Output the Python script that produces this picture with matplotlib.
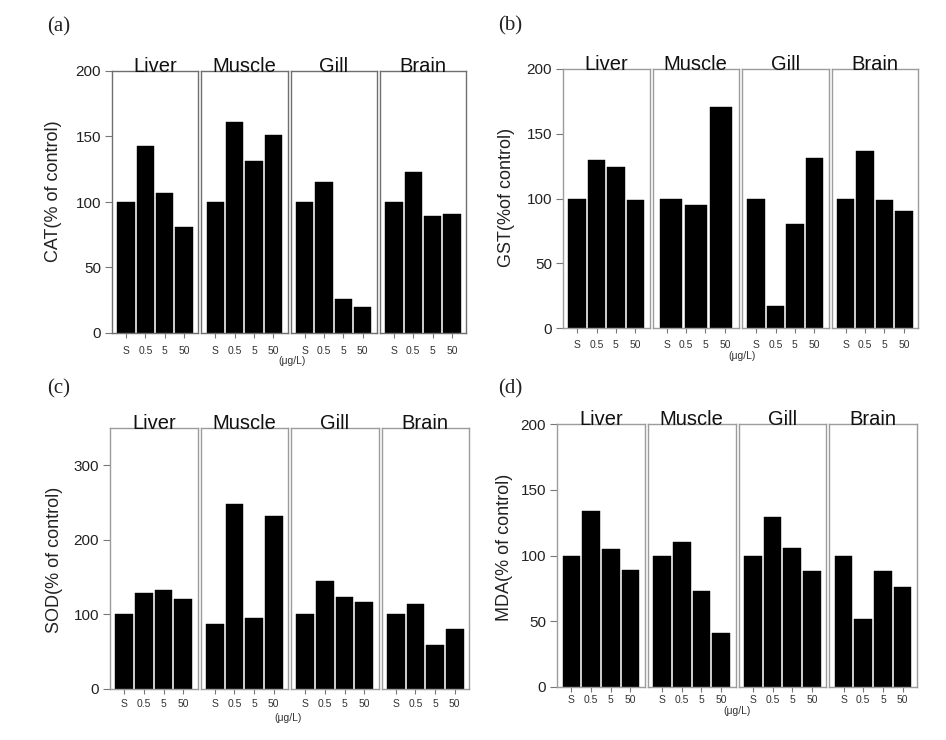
import matplotlib
matplotlib.use("Agg")
import matplotlib.pyplot as plt
import numpy as np

# ---------------- data ----------------
tissues = ["Liver", "Muscle", "Gill", "Brain"]
conc_labels = ["S", "0.5", "5", "50"]
unit_label = "(\u03bcg/L)"

cat_values = [
    [100, 143, 107, 81],
    [100, 161, 131, 151],
    [100, 115, 26, 20],
    [100, 123, 89, 91],
]
gst_values = [
    [100, 130, 124, 99],
    [100, 95, 171],
    [100, 17, 80, 131],
    [100, 137, 99, 90],
]
sod_values = [
    [100, 129, 133, 121],
    [87, 248, 95, 232],
    [100, 145, 124, 116],
    [100, 114, 59, 81],
]
mda_values = [
    [100, 134, 105, 89],
    [100, 110, 73, 41],
    [100, 129, 106, 88],
    [100, 52, 88, 76],
]

panel_letters = ["(a)", "(b)", "(c)", "(d)"]
ylabels = ["CAT(% of control)", "GST(%of control)", "SOD(% of control)", "MDA(% of control)"]
ylims = [200, 200, 350, 200]
ytick_sets = [[0, 50, 100, 150, 200], [0, 50, 100, 150, 200],
              [0, 100, 200, 300], [0, 50, 100, 150, 200]]

# ---------------- layout ----------------
W, H = 946, 740
fig = plt.figure(figsize=(W / 100, H / 100), dpi=100)
plt.rcParams['font.family'] = ['Liberation Sans', 'DejaVu Sans']

# (left, right, top, bottom) in pixels
boxes = [(112, 466, 71, 333), (563, 918, 69, 328), (110, 469, 428, 689), (557, 917, 424, 687)]
spine_colors = ["#6f6f6f", "#9c9c9c", "#9c9c9c", "#9c9c9c"]
letter_pos = [(47, 27), (498, 26), (47, 389), (498, 389)]
ylabel_pos = [(62, 191), (515, 197), (63, 560), (513, 547)]
unit_pos = [(292, 361), (742, 356), (288, 718), (737, 711)]
xtick_pads = [6.2, 4.8, 4.0, 2.0]

GAP = 3
PAD = 0.73


def draw_panel(k, data):
    left, right, top, bottom = boxes[k]
    sub_w = (right - left - 3 * GAP) / 4
    ymax = ylims[k]
    for i, vals in enumerate(data):
        x0 = left + i * (sub_w + GAP)
        ax = fig.add_axes([x0 / W, 1 - bottom / H, sub_w / W, (bottom - top) / H])
        n = len(vals)
        pos = np.arange(n)
        width = 0.9 if n == 4 else 0.86
        ax.bar(pos, vals, width=width, color="black", edgecolor="black", linewidth=0.3)
        lo, hi = -PAD, n - 1 + PAD
        ax.set_xlim(lo, hi)
        # tick positions follow the 4-concentration layout
        frac = (np.arange(len(conc_labels)) + PAD) / (len(conc_labels) - 1 + 2 * PAD)
        tpos = lo + frac * (hi - lo)
        ax.set_xticks(tpos)
        ax.set_xticklabels(conc_labels, fontsize=7.5, color="#333333")
        ax.tick_params(axis="x", length=3.5, width=0.8, color="#777777", pad=xtick_pads[k])
        ax.set_ylim(0, ymax)
        for sp in ax.spines.values():
            sp.set_color(spine_colors[k])
            sp.set_linewidth(1.0)
        if i == 0:
            ax.set_yticks(ytick_sets[k])
            ax.tick_params(axis="y", length=5, width=0.8, color="#777777",
                           labelsize=11, labelcolor="#222222", pad=3)
            ax.set_ylabel(ylabels[k], fontsize=13, color="#222222")
            lx, ly = ylabel_pos[k]
            ax.yaxis.set_label_coords((lx - x0) / sub_w, (bottom - ly) / (bottom - top))
        else:
            ax.set_yticks([])
        ax.text(0.5, 0.995, tissues[i], transform=ax.transAxes, ha="center",
                va="baseline", fontsize=14.5, color="#111111")
    ux, uy = unit_pos[k]
    fig.text(ux / W, 1 - uy / H, unit_label, ha="center", va="center",
             fontsize=7.5, color="#333333")
    px, py = letter_pos[k]
    fig.text(px / W, 1 - py / H, panel_letters[k], ha="left", va="center",
             fontsize=15, family=["Liberation Serif", "DejaVu Serif"], color="#222222")


for k, data in enumerate([cat_values, gst_values, sod_values, mda_values]):
    draw_panel(k, data)

fig.savefig("out.png", dpi=100, facecolor="white")
